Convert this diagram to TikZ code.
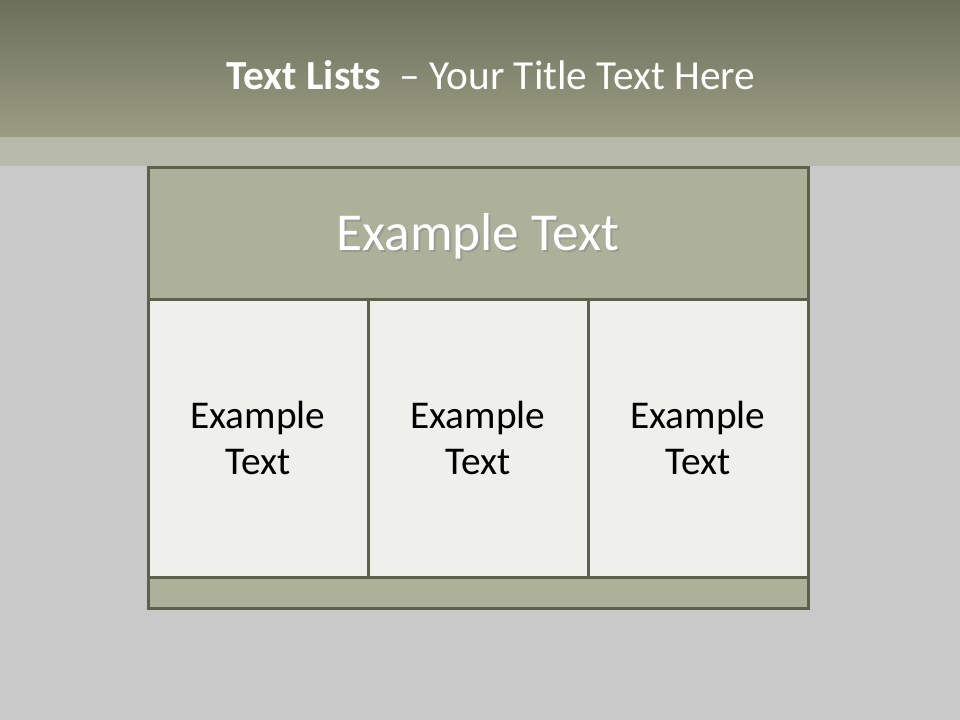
\documentclass[tikz,border=0pt]{standalone}
\usepackage{fontspec}
\setmainfont{Carlito}
\definecolor{slidebg}{HTML}{C9C9C9}
\definecolor{bandtop}{HTML}{6C705C}
\definecolor{bandbot}{HTML}{9A9D82}
\definecolor{bandstrip}{HTML}{B7B9AA}
\definecolor{boxline}{HTML}{5D604A}
\definecolor{headfill}{HTML}{ADB19A}
\definecolor{cellfill}{HTML}{EFEFEB}
\tikzset{
  header/.style={draw=boxline,line width=2.25pt,fill=headfill},
  cell/.style={draw=boxline,line width=2.25pt,fill=cellfill},
  celltext/.style={align=center,font=\fontsize{29.5}{34}\selectfont,text=black}
}
\begin{document}
\begin{tikzpicture}[x=0.75pt,y=-0.75pt]
  \useasboundingbox (0,0) rectangle (960,720);
  % slide background
  \fill[slidebg] (0,0) rectangle (960,720);
  \shade[top color=bandtop,bottom color=bandbot] (0,0) rectangle (960,137);
  \fill[bandstrip] (0,137) rectangle (960,166);
  \node[text=white,font=\fontsize{31}{37}\selectfont] (title) at (491,75) {\textbf{Text Lists}\ \ – Your Title Text Here};
  % table
  \filldraw[header] (148,168) rectangle (808,300);
  \foreach \x in {148,368,588}
    \filldraw[cell] (\x,300) rectangle +(220,277);
  \filldraw[header] (148,577) rectangle (808,608);
  \node[text=black!45,opacity=0.6,font=\fontsize{40}{48}\selectfont] (headshadow) at (480,238) {Example Text};
  \node[text=white,font=\fontsize{40}{48}\selectfont] (head) at (478,236) {Example Text};
  \node[celltext] (left) at (258,438) {Example\\Text};
  \node[celltext] (middle) at (478,438) {Example\\Text};
  \node[celltext] (right) at (698,438) {Example\\Text};
\end{tikzpicture}
\end{document}
